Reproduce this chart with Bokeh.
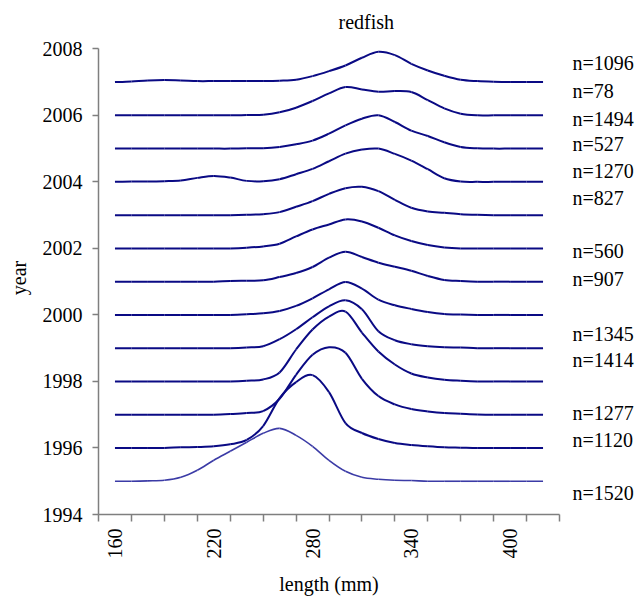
import math
from bokeh.plotting import figure
from bokeh.layouts import row
from bokeh.models import FixedTicker, Range1d, ColumnDataSource
from bokeh.core.properties import value
from bokeh.embed import file_html
from bokeh.resources import INLINE

# Length grid (mm) on which each yearly density curve is sampled
lengths = [160, 170, 180, 190, 200, 210, 220, 230, 240, 250, 260, 270, 280, 290,
           300, 310, 320, 330, 340, 350, 360, 370, 380, 390, 400, 410, 420]

years = [2007, 2006, 2005, 2004, 2003, 2002, 2001, 2000, 1999, 1998, 1997, 1996, 1995]

# Ridge heights above each year's baseline, in hundredths of a year
d2007 = [0, 2, 5, 6, 5, 3, 3, 3, 3, 3, 4, 7, 18, 33, 50, 73, 91, 81, 55, 35, 19, 7, 3, 1, 0, 0, 0]
d2006 = [0, 0, 0, 0, 0, 0, 0, 0, 1, 2, 9, 23, 43, 66, 85, 78, 71, 73, 70, 46, 21, 5, 0, 0, 0, 0, 0]
d2005 = [0, 0, 0, 0, 0, 0, 0, 0, 1, 1, 5, 13, 24, 45, 70, 90, 100, 80, 54, 38, 19, 5, 1, 0, 0, 0, 0]
d2004 = [0, 1, 1, 2, 4, 12, 18, 13, 3, 2, 8, 23, 39, 62, 85, 97, 100, 84, 64, 38, 11, 1, 0, 0, 0, 0, 0]
d2003 = [0, 0, 0, 0, 0, 0, 0, 0, 1, 3, 9, 25, 42, 64, 81, 85, 72, 46, 22, 11, 7, 3, 1, 0, 0, 0, 0]
d2002 = [0, 0, 0, 0, 0, 0, 0, 0, 2, 6, 14, 36, 57, 72, 87, 81, 62, 39, 22, 10, 3, 0, 0, 0, 0, 0, 0]
d2001 = [0, 0, 0, 0, 0, 0, 0, 2, 3, 4, 14, 26, 44, 72, 90, 74, 57, 45, 33, 17, 5, 2, 0, 0, 0, 0, 0]
d2000 = [0, 0, 0, 0, 0, 0, 0, 0, 2, 5, 12, 27, 50, 77, 99, 79, 46, 29, 18, 9, 3, 1, 0, 0, 0, 0, 0]
d1999 = [0, 0, 0, 0, 0, 0, 0, 0, 2, 6, 27, 57, 93, 126, 144, 117, 51, 24, 12, 6, 3, 2, 0, 0, 0, 0, 0]
d1998 = [0, 0, 0, 0, 0, 0, 0, 0, 2, 6, 27, 96, 156, 195, 210, 147, 90, 51, 24, 12, 5, 2, 0, 0, 0, 0, 0]
d1997 = [0, 0, 0, 0, 0, 0, 0, 2, 5, 11, 48, 120, 180, 203, 186, 108, 56, 31, 17, 10, 5, 3, 1, 0, 0, 0, 0]
d1996 = [0, 0, 0, 0, 2, 3, 5, 11, 24, 66, 150, 198, 219, 168, 75, 45, 27, 15, 9, 5, 2, 1, 0, 0, 0, 0, 0]
d1995 = [0, 0, 1, 3, 12, 33, 63, 90, 117, 144, 159, 138, 105, 63, 30, 12, 6, 3, 2, 0, 0, 0, 0, 0, 0, 0, 0]

densities = [d2007, d2006, d2005, d2004, d2003, d2002, d2001, d2000,
             d1999, d1998, d1997, d1996, d1995]

# Sample sizes per year and where each note sits on the year scale
sample_labels = ["n=1096", "n=78", "n=1494", "n=527", "n=1270", "n=827", "n=560",
                 "n=907", "n=1345", "n=1414", "n=1277", "n=1120", "n=1520"]
label_y = [2007.57, 2006.72, 2005.90, 2005.13, 2004.32, 2003.51, 2001.92,
           2001.07, 1999.42, 1998.61, 1997.02, 1996.21, 1994.61]

x_tick_labels = [160, 220, 280, 340, 400]
x_minor = list(range(150, 431, 20))
y_ticks = list(range(1994, 2009, 2))

FONT = "serif"
AXIS_GREY = "#7f7f7f"


def smooth_segments(xs, ys):
    """Cubic Bezier pieces (Catmull-Rom) passing through every sample."""
    n = len(xs)
    seg = dict(x0=[], y0=[], x1=[], y1=[], cx0=[], cy0=[], cx1=[], cy1=[])
    for i in range(n - 1):
        i0, i3 = max(i - 1, 0), min(i + 2, n - 1)
        seg["x0"].append(xs[i]); seg["y0"].append(ys[i])
        seg["x1"].append(xs[i + 1]); seg["y1"].append(ys[i + 1])
        seg["cx0"].append(xs[i] + (xs[i + 1] - xs[i0]) / 6.0)
        seg["cy0"].append(ys[i] + (ys[i + 1] - ys[i0]) / 6.0)
        seg["cx1"].append(xs[i + 1] - (xs[i3] - xs[i]) / 6.0)
        seg["cy1"].append(ys[i + 1] - (ys[i3] - ys[i]) / 6.0)
    return seg


year_range = Range1d(1994, 2008.22)

p = figure(width=561, height=597, frame_width=461, frame_height=473,
           x_range=Range1d(150, 430), y_range=year_range,
           min_border_left=98, min_border_right=2, min_border_top=40, min_border_bottom=84,
           title="redfish", output_backend="svg", toolbar_location=None)

p.outline_line_color = None
p.xgrid.visible = False
p.ygrid.visible = False
p.background_fill_color = "white"
p.border_fill_color = "white"

p.title.align = "left"
p.title.offset = 240
p.title.standoff = 17
p.title.text_font = FONT
p.title.text_font_size = "20px"
p.title.text_font_style = "normal"
p.title.text_color = "black"

# x axis: labels every 60 mm, tick marks every 20 mm
xa = p.xaxis[0]
xa.bounds = (150, 430)
xa.ticker = FixedTicker(ticks=x_tick_labels, minor_ticks=x_minor)
xa.major_tick_out = 0
xa.major_tick_in = 0
xa.minor_tick_out = 7
xa.minor_tick_in = 0
xa.major_label_orientation = math.pi / 2
xa.major_label_standoff = 7
xa.axis_label = "length (mm)"
xa.axis_label_standoff = 11

ya = p.yaxis[0]
ya.bounds = (1994, 2008)
ya.ticker = FixedTicker(ticks=y_ticks, minor_ticks=[])
ya.major_tick_out = 6
ya.major_tick_in = 0
ya.minor_tick_out = 0
ya.minor_tick_in = 0
ya.major_label_standoff = 10
ya.axis_label = "year"
ya.axis_label_standoff = 10

for ax in (xa, ya):
    ax.axis_line_color = AXIS_GREY
    ax.axis_line_width = 1.5
    ax.major_tick_line_color = AXIS_GREY
    ax.minor_tick_line_color = AXIS_GREY
    ax.major_tick_line_width = 1.5
    ax.minor_tick_line_width = 1.5
    ax.major_label_text_font = FONT
    ax.major_label_text_font_size = "20px"
    ax.major_label_text_color = "black"
    ax.axis_label_text_font = FONT
    ax.axis_label_text_font_size = "20px"
    ax.axis_label_text_font_style = "normal"
    ax.axis_label_text_color = "black"

# One smooth ridge per year, lifted onto its baseline
for yr, dens in zip(years, densities):
    ys = [yr + d / 100.0 for d in dens]
    src = ColumnDataSource(smooth_segments(lengths, ys))
    if yr == 1995:
        color, width = "#3b3ba6", 1.6
    else:
        color, width = "#0a0a84", 2
    p.bezier(x0="x0", y0="y0", x1="x1", y1="y1", cx0="cx0", cy0="cy0",
             cx1="cx1", cy1="cy1", source=src, line_color=color, line_width=width)

# Narrow side panel on the shared year scale for the sample-size notes
side = figure(width=78, height=597, x_range=Range1d(0, 1), y_range=year_range,
              min_border_left=0, min_border_right=0, min_border_top=40, min_border_bottom=84,
              x_axis_location=None, y_axis_location=None,
              output_backend="svg", toolbar_location=None)
side.outline_line_color = None
side.xgrid.visible = False
side.ygrid.visible = False
side.background_fill_color = "white"
side.border_fill_color = "white"

label_src = ColumnDataSource(dict(x=[0.14] * len(sample_labels), y=label_y, text=sample_labels))
side.text("x", "y", text="text", source=label_src,
          text_font=value(FONT), text_font_size="20px",
          text_baseline="middle", text_align="left", text_color="black")

layout = row(p, side)
open("out.html", "w").write(file_html(layout, INLINE))
